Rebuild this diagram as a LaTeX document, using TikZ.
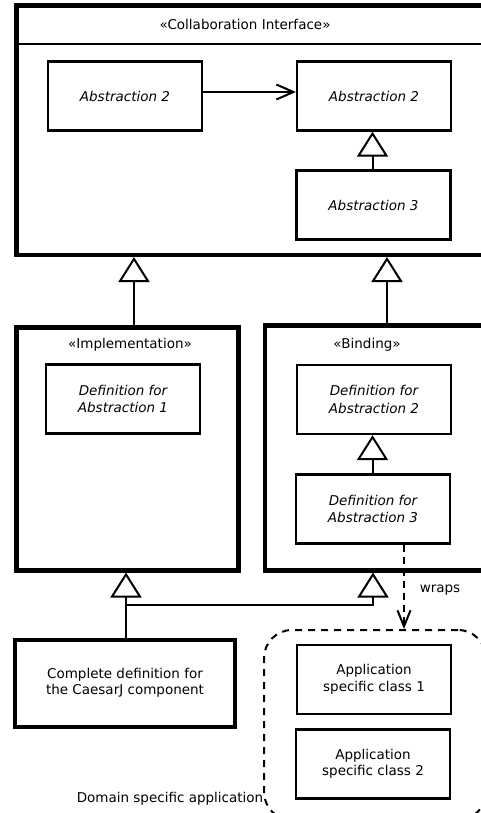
\documentclass[tikz,border=0pt]{standalone}
\usepackage{fontspec}
\setmainfont{DejaVu Sans}
\usepackage{tikz}
\usetikzlibrary{arrows.meta,positioning}

\begin{document}
\begin{tikzpicture}[
  x=1bp, y=-1bp,
  font=\fontsize{13.5bp}{16.5bp}\selectfont,
  container/.style={draw, line width=4.5bp, anchor=north west, inner sep=0pt},
  classbox/.style={draw, line width=2.3bp, minimum width=154bp, minimum height=69bp, align=center, inner sep=0pt, font=\fontsize{13.5bp}{17.5bp}\selectfont\itshape},
  plainbox/.style={classbox, font=\fontsize{13.5bp}{16.5bp}\selectfont},
  headline/.style={line width=2bp},
  stereo/.style={inner sep=0pt},
  genline/.style={-{Triangle[open, length=25bp, width=31bp, line width=2bp]}, line width=2bp},
  plainline/.style={line width=2bp},
  assoc/.style={-{Straight Barb[length=17bp, width=15bp, line width=2bp]}, line width=2bp},
  wrapline/.style={-{Straight Barb[length=16bp, width=13bp, line width=2bp]}, line width=2bp, dash pattern=on 7bp off 5bp},
  domainbox/.style={draw, line width=2bp, dash pattern=on 7bp off 6bp, rounded corners=28bp, anchor=north west, inner sep=0pt},
  note/.style={inner sep=0pt}
]
\useasboundingbox (0,0) rectangle (481,813);
\clip (0,0) rectangle (481,813);

\node[container, minimum width=470bp, minimum height=249bp] (ci) at (14,3.5) {};
\node[stereo] (cihead) at (245,24) {«Collaboration Interface»};
\coordinate (hdr) at (0,44);
\draw[headline] (ci.west |- hdr) -- (ci.east |- hdr);

\node[classbox] (abs2a) at (125,96) {Abstraction 2};
\node[classbox] (abs2b) at (374,96) {Abstraction 2};
\node[classbox] (abs3) at (373.5,205) {Abstraction 3};
\coordinate (gx) at (372.5,0);
\draw[assoc] ([yshift=4bp]abs2a.east) -- ([yshift=4bp]abs2b.west);
\draw[genline] (abs3.north -| gx) -- (abs2b.south -| gx);

\node[container, minimum width=222bp, minimum height=243bp] (impl) at (14,325) {};
\node[stereo] (implhead) at (130,345) {«Implementation»};
\node[classbox] (def1) at (123,399) {Definition for\\Abstraction 1};

\node[container, minimum width=222bp, minimum height=245bp] (bind) at (262.5,323) {};
\node[stereo] (bindhead) at (367,345) {«Binding»};
\node[classbox] (def2) at (374,399.5) {Definition for\\Abstraction 2};
\node[classbox] (def3) at (373,509) {Definition for\\Abstraction 3};
\draw[genline] (def3.north -| gx) -- (def2.south -| gx);

\coordinate (ix) at (134,0);
\coordinate (bx) at (387,0);
\draw[genline] (impl.north -| ix) -- (ci.south -| ix);
\draw[genline] (bind.north -| bx) -- (ci.south -| bx);

\node[container, minimum width=220bp, minimum height=87bp, line width=4bp, align=center, font=\fontsize{13.5bp}{16.5bp}\selectfont] (caesar) at (13,637.5) {Complete definition for\\the CaesarJ component};
\coordinate (jL) at (126,605);
\coordinate (jR) at (373,605);
\draw[plainline] (caesar.north -| jL) -- (jL);
\draw[genline] (jL) -- (jL |- impl.south);
\draw[genline] (jL) -- (jR) -- (jR |- bind.south);

\node[domainbox, minimum width=222bp, minimum height=190bp] (dom) at (263,629) {};
\node[plainbox] (app1) at (374,679.5) {Application\\specific class 1};
\node[plainbox] (app2) at (373,764) {Application\\specific class 2};
\draw[wrapline] ([xshift=31bp]def3.south) -- ([xshift=31bp]def3.south |- dom.north);
\node[note] (wraps) at (440,590) {wraps};
\node[note] (domlabel) at (170,799) {Domain specific application};
\end{tikzpicture}
\end{document}
